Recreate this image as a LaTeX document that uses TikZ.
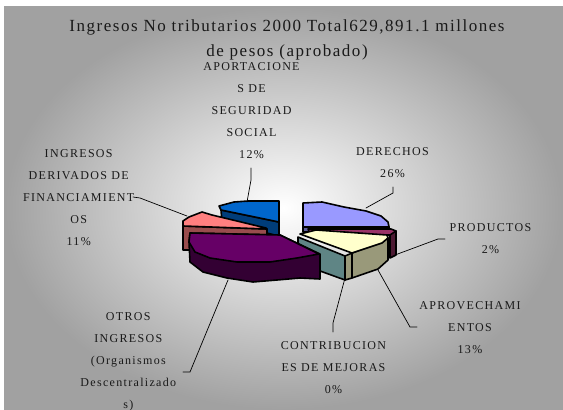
\documentclass[tikz,border=0pt]{standalone}
\usepackage{fontspec}
\usepackage{tkz-euclide}
\setmainfont{Liberation Serif}
\newfontfamily\titlefont[LetterSpace=9]{Liberation Serif}
\newfontfamily\labelfont[LetterSpace=11]{Liberation Serif}
\definecolor{derechos}{HTML}{9999FF}
\definecolor{derechosside}{HTML}{5C5C99}
\definecolor{productos}{HTML}{993366}
\definecolor{productosside}{HTML}{4D1A33}
\definecolor{aprovecha}{HTML}{FFFFCC}
\definecolor{aprovechaside}{HTML}{99997A}
\definecolor{mejoras}{HTML}{5F8585}
\definecolor{otros}{HTML}{660066}
\definecolor{otrosside}{HTML}{330033}
\definecolor{financ}{HTML}{FF8080}
\definecolor{financside}{HTML}{994D4D}
\definecolor{aporta}{HTML}{0066CC}
\definecolor{aportaside}{HTML}{003D7A}
\tikzset{>=stealth,
  face/.style={draw=black, line width=1.6pt, line join=round},
  leader/.style={draw=black, line width=0.7pt},
  lbl/.style={font={\labelfont\fontsize{12}{22}\selectfont}, align=center,
    anchor=north, inner sep=0pt, text=black!90}}

\begin{document}
\begin{tikzpicture}[x=1pt, y=-1pt]
\useasboundingbox (0,0) rectangle (563,410);
\shade[inner color=white, outer color=black!37] (4,6) rectangle (563,410);
% title
\node (titulo) [font={\titlefont\fontsize{17}{25}\selectfont}, align=center,
  anchor=north, inner sep=0pt, text=black!90] at (287,20)
  {Ingresos No tributarios 2000 Total629,891.1 millones\\de pesos (aprobado)};
% DERECHOS
\draw[face, fill=derechosside] (303,227) -- (389,227) -- (389,232) -- (303,232) -- cycle;
\draw[face, fill=derechos] (303,203) -- (322,202) -- (344,207) -- (366,211)
  -- (381,216) -- (388,222) -- (389,227) -- (303,227) -- cycle;
% PRODUCTOS
\draw[face, fill=productosside] (390,231) -- (396,231) -- (396,255) -- (390,258) -- cycle;
\draw[face, fill=productos] (308,229) -- (391,229) -- (396,231) -- (390,235) -- (310,234) -- cycle;
% CONTRIBUCIONES DE MEJORAS
\draw[face, fill=mejoras] (298,237) -- (345,256) -- (345,280) -- (298,263) -- cycle;
% APROVECHAMIENTOS
\draw[face, fill=aprovechaside] (345,256) -- (388,238) -- (388,260) -- (378,269)
  -- (352,278) -- (345,280) -- cycle;
\draw[face] (352,253) -- (352,278);
\draw[face, fill=aprovecha] (300,234) -- (316,230) -- (387,235) -- (388,238)
  -- (382,243) -- (367,248) -- (352,253) -- cycle;
% APORTACIONES DE SEGURIDAD SOCIAL
\draw[face, fill=aportaside] (221,210) -- (279,222) -- (279,236) -- (222,222) -- cycle;
\draw[face, fill=aporta] (219,206) -- (234,202) -- (248,201) -- (279,201)
  -- (279,222) -- (221,210) -- cycle;
% INGRESOS DERIVADOS DE FINANCIAMIENTOS
\draw[face, fill=financside] (183,226) -- (267,229) -- (267,240) -- (189,250) -- (183,250) -- cycle;
\draw[face, fill=financ] (183,226) -- (183,221) -- (189,217) -- (202,212)
  -- (212,215) -- (266,228) -- (267,229) -- cycle;
% OTROS INGRESOS
\draw[face, fill=otrosside] (190,233) -- (280,235) -- (320,254) -- (320,279)
  -- (300,278) -- (277,280) -- (253,282) -- (227,278) -- (203,272)
  -- (190,262) -- (189,242) -- cycle;
\draw[face, fill=otros] (190,233) -- (280,235) -- (319,254) -- (297,258)
  -- (270,262) -- (237,262) -- (210,258) -- (195,252) -- (189,242) -- cycle;
% labels
\node (derechos) [lbl] at (392.5,147.5) {DERECHOS\\26\%};
\node (productos) [lbl] at (490.5,223) {PRODUCTOS\\2\%};
\node (aprovecha) [lbl] at (470,301) {APROVECHAMI\\ENTOS\\13\%};
\node (mejoras) [lbl] at (333.5,341) {CONTRIBUCION\\ES DE MEJORAS\\0\%};
\node (otros) [lbl] at (128.3,312.5) {OTROS\\INGRESOS\\(Organismos\\Descentralizado\\s)};
\node (financ) [lbl] at (78.7,149) {INGRESOS\\DERIVADOS DE\\FINANCIAMIENT\\OS\\11\%};
\node (aporta) [lbl] at (251.5,62.5) {APORTACIONE\\S DE\\SEGURIDAD\\SOCIAL\\12\%};
% leaders
\tkzDefPoints{393/187/D1, 393/193/D2, 366/208/D3,
  445/239/P1, 438/239/P2, 395/255/P3,
  417/327/A1, 410/327/A2, 378/270/A3,
  333/332/C1, 333/323/C2, 345/278/C3,
  183/372/O1, 190/372/O2, 228/280/O3,
  133/197/F1, 140/198/F2, 187/216/F3,
  251/168/S1, 251/180/S2, 247/202/S3}
\tkzDrawPolySeg[leader](D1,D2,D3)
\tkzDrawPolySeg[leader](P1,P2,P3)
\tkzDrawPolySeg[leader](A1,A2,A3)
\tkzDrawPolySeg[leader](C1,C2,C3)
\tkzDrawPolySeg[leader](O1,O2,O3)
\tkzDrawPolySeg[leader](F1,F2,F3)
\tkzDrawPolySeg[leader](S1,S2,S3)
\end{tikzpicture}
\end{document}
